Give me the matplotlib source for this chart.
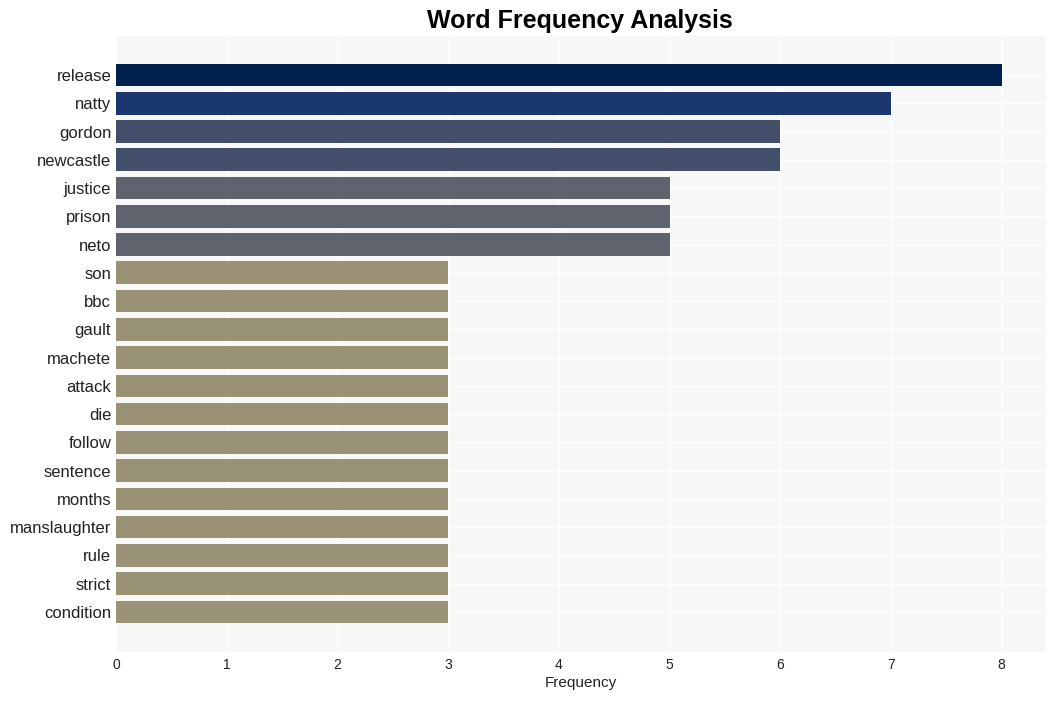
import matplotlib
matplotlib.use("Agg")
import matplotlib.pyplot as plt
import numpy as np

words = ["release", "natty", "gordon", "newcastle", "justice", "prison", "neto",
         "son", "bbc", "gault", "machete", "attack", "die", "follow",
         "sentence", "months", "manslaughter", "rule", "strict", "condition"]
counts = [8, 7, 6, 6, 5, 5, 5, 3, 3, 3, 3, 3, 3, 3, 3, 3, 3, 3, 3, 3]

# colour by frequency value
palette = {8: "#00214e", 7: "#1a386f", 6: "#434e6b", 5: "#5f636e", 3: "#9a9275"}

plt.rcParams['font.family'] = ['Liberation Sans', 'DejaVu Sans']

fig = plt.figure(figsize=(10.55, 7.01), dpi=100)
ax = fig.add_axes([116/1055, 1-652/701, (1046-116)/1055, (652-36)/701])
ax.set_facecolor("#f7f7f7")

cols = [palette[c] for c in counts]
ypos = np.arange(len(words))
ax.barh(ypos, counts, height=0.8, color=cols, zorder=3)

ax.set_yticks(ypos)
ax.set_yticklabels(words, fontsize=12, color="#222222")
ax.set_ylim(len(words) - 1 + 1.42, -1.38)
ax.set_xlim(0, 8.4)
ax.set_xticks(range(9))
ax.tick_params(axis="x", labelsize=10, colors="#222222", length=0, pad=4)
ax.tick_params(axis="y", length=0, pad=3.5)
ax.grid(True, color="white", linewidth=0.9, zorder=0)
for s in ax.spines.values():
    s.set_visible(False)

ax.set_xlabel("Frequency", fontsize=11, color="#222222", labelpad=3)
fig.text(580/1055, 1-21/701, "Word Frequency Analysis", fontsize=18,
         fontweight="bold", ha="center", va="center")

fig.savefig("out.png", dpi=100)
